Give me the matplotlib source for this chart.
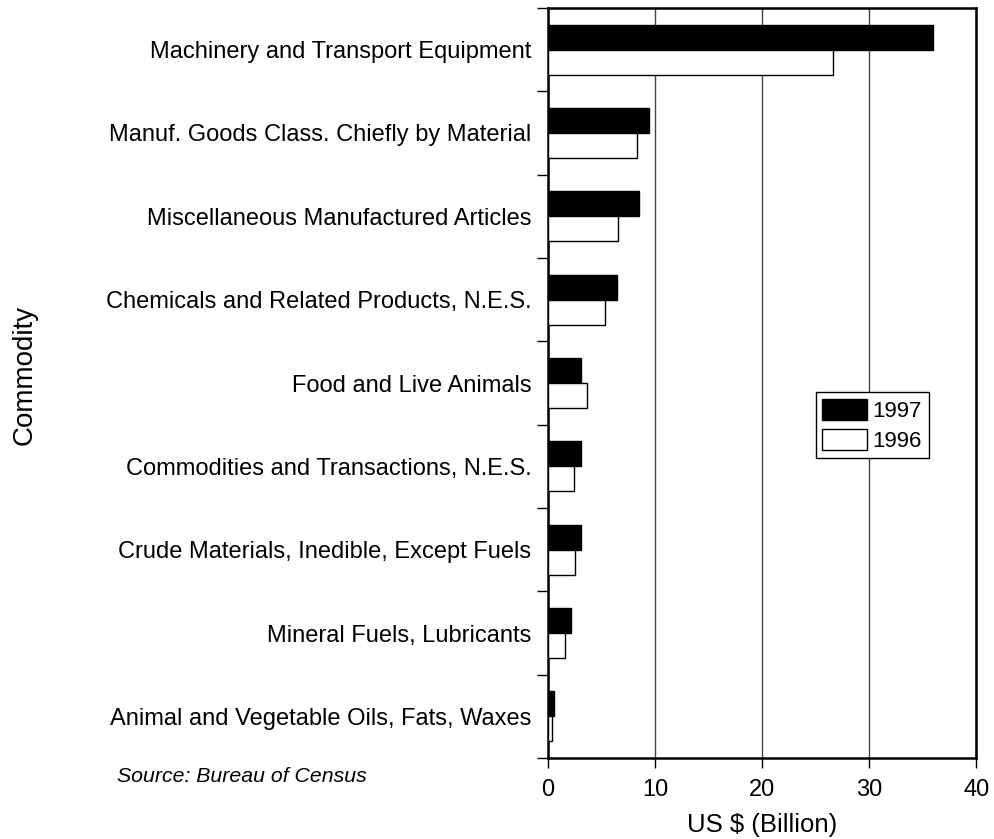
import numpy as np
import matplotlib.pyplot as plt
from matplotlib.ticker import FixedLocator

plt.rcParams['font.family'] = ['Liberation Sans', 'DejaVu Sans']

commodities = ["Machinery and Transport Equipment",
               "Manuf. Goods Class. Chiefly by Material",
               "Miscellaneous Manufactured Articles",
               "Chemicals and Related Products, N.E.S.",
               "Food and Live Animals",
               "Commodities and Transactions, N.E.S.",
               "Crude Materials, Inedible, Except Fuels",
               "Mineral Fuels, Lubricants",
               "Animal and Vegetable Oils, Fats, Waxes"]
vals_1997 = [35.9, 9.4, 8.45, 6.4, 3.1, 3.1, 3.1, 2.15, 0.53]
vals_1996 = [26.6, 8.35, 6.5, 5.3, 3.6, 2.4, 2.55, 1.55, 0.37]
xticks = [0, 10, 20, 30, 40]

fig = plt.figure(figsize=(9.95, 8.39), dpi=100)
ax = fig.add_axes([0.5508, 0.0965, 0.4306, 0.894])

n = len(commodities)
y = np.arange(n)
h = 0.3
ax.barh(y - h/2, vals_1997, height=h, color='black', edgecolor='black', lw=1, label='1997', zorder=3)
ax.barh(y + h/2, vals_1996, height=h, color='white', edgecolor='black', lw=1, label='1996', zorder=3)

ax.set_ylim(n - 0.5, -0.5)
ax.set_xlim(0, 40)
ax.set_xticks(xticks)
ax.set_yticks(y)
ax.set_yticklabels(commodities, fontsize=17)
ax.yaxis.set_minor_locator(FixedLocator(np.arange(n + 1) - 0.5))
ax.tick_params(axis='y', which='major', length=0, pad=12)
ax.tick_params(axis='y', which='minor', length=8, width=1, direction='out')
ax.tick_params(axis='x', labelsize=17, length=7, width=1, pad=8)
ax.grid(axis='x', color='#444444', lw=1, zorder=1)

for s in ax.spines.values():
    s.set_linewidth(1.8)

ax.set_xlabel("US $ (Billion)", fontsize=18.5, labelpad=9)
fig.text(0.025, 0.553, "Commodity", rotation=90, fontsize=20, va='center', ha='center')
fig.text(0.118, 0.075, "Source: Bureau of Census", fontsize=15.3, style='italic', va='center')

leg = ax.legend(loc='upper left', bbox_to_anchor=(0.625, 0.488), fontsize=16, frameon=True,
                fancybox=False, edgecolor='black', framealpha=1, borderpad=0.3,
                handlelength=2.0, handleheight=1.1, handletextpad=0.25, labelspacing=0.3,
                borderaxespad=0)
leg.get_frame().set_linewidth(1)

fig.savefig('out.png', dpi=100)
